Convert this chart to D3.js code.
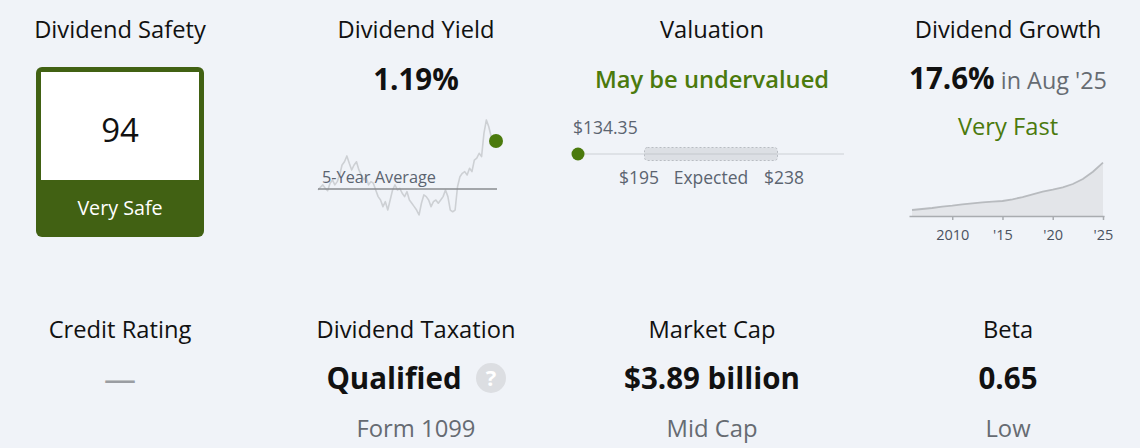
<!DOCTYPE html>
<html>
<head>
<meta charset="utf-8">
<script src="https://cdn.jsdelivr.net/npm/d3@7"></script>
<style>
  body { margin: 0; background: #f0f3f8; }
  svg { display: block; font-family: "Open Sans", sans-serif; }
</style>
</head>
<body>
<svg width="1140" height="448"></svg>
<script>
// top row
var titles = ["Dividend Safety", "Dividend Yield", "Valuation", "Dividend Growth"];
var safetyScore = 94, safetyLabel = "Very Safe";
var currentYield = 1.19, yieldAvg5y = 0.85;
// trailing 5 years of dividend yield (%)
var yieldHistory = [0.843, 0.862, 0.879, 0.855, 0.838, 0.891, 0.914, 0.879, 0.902, 0.949,
  1.020, 1.043, 1.084, 1.032, 0.985, 1.020, 1.043, 0.985, 0.949, 0.914,
  0.937, 0.879, 0.902, 0.891, 0.843, 0.796, 0.772, 0.725, 0.760, 0.701,
  0.772, 0.843, 0.879, 0.843, 0.855, 0.820, 0.796, 0.831, 0.772, 0.749,
  0.725, 0.701, 0.666, 0.749, 0.808, 0.796, 0.772, 0.725, 0.760, 0.772,
  0.749, 0.772, 0.796, 0.843, 0.796, 0.701, 0.689, 0.701, 0.866, 0.937,
  0.961, 0.973, 0.949, 0.997, 0.973, 1.055, 1.068, 1.103, 1.079, 1.245,
  1.339, 1.291, 1.220, 1.209, 1.19];
var valuationLabel = "May be undervalued";
var price = 134.35, expectedLow = 195, expectedHigh = 238;
var growthRate = "17.6%", growthDate = "in Aug '25", growthLabel = "Very Fast";
var divYears = [2006, 2007, 2008, 2009, 2010, 2011, 2012, 2013, 2014, 2015,
  2016, 2017, 2018, 2019, 2020, 2021, 2022, 2023, 2024, 2025];
var divPerShare = [0.18, 0.21, 0.24, 0.28, 0.31, 0.35, 0.38, 0.41, 0.43, 0.45,
  0.50, 0.57, 0.65, 0.73, 0.79, 0.86, 0.96, 1.11, 1.33, 1.60];
var growthTicks = [2010, 2015, 2020, 2025];

// bottom row
var bottomTitles = ["Credit Rating", "Dividend Taxation", "Market Cap", "Beta"];
var bottomValues = ["—", "Qualified", "$3.89 billion", "0.65"];
var bottomNotes = ["", "Form 1099", "Mid Cap", "Low"];

var green = "#4b7a0d", darkGreen = "#416113", gray = "#5b6470";
var svg = d3.select("svg");
var cols = d3.scalePoint().domain(d3.range(4)).range([120, 1008]);

svg.selectAll(".title")
  .data(titles)
  .enter().append("text")
    .attr("class", "title")
    .attr("x", function(d, i) { return cols(i); })
    .attr("y", 38)
    .attr("text-anchor", "middle")
    .attr("font-size", 23.7)
    .attr("fill", "#111")
    .text(function(d) { return d; });

// safety box
var safe = svg.append("g");
safe.append("rect")
    .attr("x", 36).attr("y", 67)
    .attr("width", 168).attr("height", 170)
    .attr("rx", 6)
    .attr("fill", darkGreen);
safe.append("rect")
    .attr("x", 41).attr("y", 72)
    .attr("width", 158).attr("height", 108)
    .attr("fill", "#fff");
safe.append("text")
    .attr("x", cols(0)).attr("y", 142)
    .attr("text-anchor", "middle")
    .attr("font-size", 33)
    .attr("fill", "#111")
    .text(safetyScore);
safe.append("text")
    .attr("x", cols(0)).attr("y", 215)
    .attr("text-anchor", "middle")
    .attr("font-size", 19.7)
    .attr("fill", "#fff")
    .text(safetyLabel);

// dividend yield
svg.append("text")
    .attr("x", cols(1)).attr("y", 90)
    .attr("text-anchor", "middle")
    .attr("font-size", 29.5)
    .attr("font-weight", "bold")
    .attr("fill", "#111")
    .text(d3.format(".2f")(currentYield) + "%");

var yx = d3.scaleLinear().domain([0, yieldHistory.length - 1]).range([318, 496]),
    yy = d3.scaleLinear().domain([0.6, 1.4]).range([224.3, 111.3]);

svg.append("path")
    .datum(yieldHistory)
    .attr("fill", "none")
    .attr("stroke", "#cdd0d4")
    .attr("stroke-width", 1.6)
    .attr("stroke-linejoin", "round")
    .attr("d", d3.line()
      .x(function(d, i) { return yx(i); })
      .y(function(d) { return yy(d); }));

svg.append("line")
    .attr("x1", yx(0)).attr("x2", yx(yieldHistory.length - 1) + 1)
    .attr("y1", yy(yieldAvg5y)).attr("y2", yy(yieldAvg5y))
    .attr("stroke", "#8a8d91")
    .attr("stroke-width", 1.5);

svg.append("text")
    .attr("x", 322).attr("y", 183)
    .attr("font-size", 16.3)
    .attr("fill", gray)
    .text("5-Year Average");

svg.append("circle")
    .attr("cx", yx(yieldHistory.length - 1))
    .attr("cy", yy(currentYield))
    .attr("r", 7)
    .attr("fill", green);

// valuation
svg.append("text")
    .attr("x", cols(2)).attr("y", 88)
    .attr("text-anchor", "middle")
    .attr("font-size", 23.7)
    .attr("font-weight", 600)
    .attr("fill", green)
    .text(valuationLabel);

var mid = (expectedLow + expectedHigh) / 2, spread = expectedHigh - expectedLow;
var vx = d3.scaleLinear()
    .domain([mid - spread, mid + spread])
    .range([578, 844])
    .clamp(true);
var vy = 154;

svg.append("line")
    .attr("x1", vx.range()[0]).attr("x2", vx.range()[1])
    .attr("y1", vy).attr("y2", vy)
    .attr("stroke", "#ccd0d5")
    .attr("stroke-width", 1);

svg.append("rect")
    .attr("x", vx(expectedLow))
    .attr("y", vy - 6.5)
    .attr("width", vx(expectedHigh) - vx(expectedLow))
    .attr("height", 13)
    .attr("rx", 3)
    .attr("fill", "#dcdfe4")
    .attr("stroke", "#b9bdc3")
    .attr("stroke-dasharray", "2,2");

svg.append("line")
    .attr("x1", vx(expectedLow)).attr("x2", vx(expectedHigh))
    .attr("y1", vy).attr("y2", vy)
    .attr("stroke", "#c4c8cd")
    .attr("stroke-width", 1);

svg.append("circle")
    .attr("cx", vx(price)).attr("cy", vy)
    .attr("r", 6.5)
    .attr("fill", green);

svg.append("text")
    .attr("x", vx(price) - 5).attr("y", 134)
    .attr("font-size", 17.5)
    .attr("fill", gray)
    .text("$" + d3.format(".2f")(price));

var midX = (vx(expectedLow) + vx(expectedHigh)) / 2;
svg.append("text")
    .attr("x", midX).attr("y", 184)
    .attr("text-anchor", "middle")
    .attr("font-size", 17.5)
    .attr("fill", gray)
    .text("Expected");
svg.append("text")
    .attr("x", midX - 52).attr("y", 184)
    .attr("text-anchor", "end")
    .attr("font-size", 17.5)
    .attr("fill", gray)
    .text("$" + expectedLow);
svg.append("text")
    .attr("x", midX + 53).attr("y", 184)
    .attr("font-size", 17.5)
    .attr("fill", gray)
    .text("$" + expectedHigh);

// dividend growth
var gt = svg.append("text")
    .attr("x", cols(3)).attr("y", 89)
    .attr("text-anchor", "middle");
gt.append("tspan")
    .attr("font-size", 29.5)
    .attr("font-weight", "bold")
    .attr("fill", "#111")
    .text(growthRate);
gt.append("tspan")
    .attr("font-size", 23.4)
    .attr("fill", "#666b72")
    .text(" " + growthDate);

svg.append("text")
    .attr("x", cols(3)).attr("y", 135)
    .attr("text-anchor", "middle")
    .attr("font-size", 23.7)
    .attr("fill", green)
    .text(growthLabel);

var gx = d3.scaleLinear().domain([2005.7, 2025.1]).range([909, 1104]),
    gy = d3.scaleLinear().domain([0, 1.6]).range([216, 162.7]);

svg.append("path")
    .datum(divPerShare)
    .attr("fill", "#e3e5e9")
    .attr("d", d3.area()
      .x(function(d, i) { return gx(divYears[i]); })
      .y0(gy(0))
      .y1(function(d) { return gy(d); }));

svg.append("path")
    .datum(divPerShare)
    .attr("fill", "none")
    .attr("stroke", "#b8bbbf")
    .attr("stroke-width", 1.8)
    .attr("d", d3.line()
      .x(function(d, i) { return gx(divYears[i]); })
      .y(function(d) { return gy(d); }));

var gAxis = svg.append("g")
    .attr("transform", "translate(0," + gy(0) + ")")
    .call(d3.axisBottom(gx)
      .tickValues(growthTicks)
      .tickSize(4)
      .tickSizeOuter(0)
      .tickFormat(function(d) { return d === 2010 ? "2010" : "'" + String(d).slice(2); }));
gAxis.select(".domain").attr("stroke", "#a9acb0").attr("stroke-width", 1.5);
gAxis.selectAll(".tick line").attr("stroke", "#a9acb0").attr("stroke-width", 1.5);
gAxis.selectAll(".tick text")
    .attr("font-family", "Open Sans, sans-serif")
    .attr("font-size", 14.5)
    .attr("fill", "#4a5260")
    .attr("dy", "1.2em");

// bottom row
svg.selectAll(".btitle")
  .data(bottomTitles)
  .enter().append("text")
    .attr("class", "btitle")
    .attr("x", function(d, i) { return cols(i); })
    .attr("y", 338)
    .attr("text-anchor", "middle")
    .attr("font-size", 23.7)
    .attr("fill", "#111")
    .text(function(d) { return d; });

svg.selectAll(".bvalue")
  .data(bottomValues)
  .enter().append("text")
    .attr("class", "bvalue")
    .attr("x", function(d, i) { return i === 1 ? cols(i) - 22 : cols(i); })
    .attr("y", function(d, i) { return i === 0 ? 391 : 389; })
    .attr("text-anchor", "middle")
    .attr("font-size", function(d, i) { return i === 0 ? 32 : 29.5; })
    .attr("font-weight", function(d, i) { return i === 0 ? "normal" : "bold"; })
    .attr("fill", function(d, i) { return i === 0 ? "#9a9da2" : "#111"; })
    .text(function(d) { return d; });

svg.selectAll(".bnote")
  .data(bottomNotes)
  .enter().append("text")
    .attr("class", "bnote")
    .attr("x", function(d, i) { return cols(i); })
    .attr("y", 437)
    .attr("text-anchor", "middle")
    .attr("font-size", 23.8)
    .attr("fill", "#666b72")
    .text(function(d) { return d; });

// help icon next to "Qualified"
svg.append("circle")
    .attr("cx", 491).attr("cy", 378)
    .attr("r", 15)
    .attr("fill", "#dcdee2");
svg.append("text")
    .attr("x", 491).attr("y", 386)
    .attr("text-anchor", "middle")
    .attr("font-size", 22)
    .attr("font-weight", "bold")
    .attr("fill", "#fff")
    .text("?");
</script>
</body>
</html>
